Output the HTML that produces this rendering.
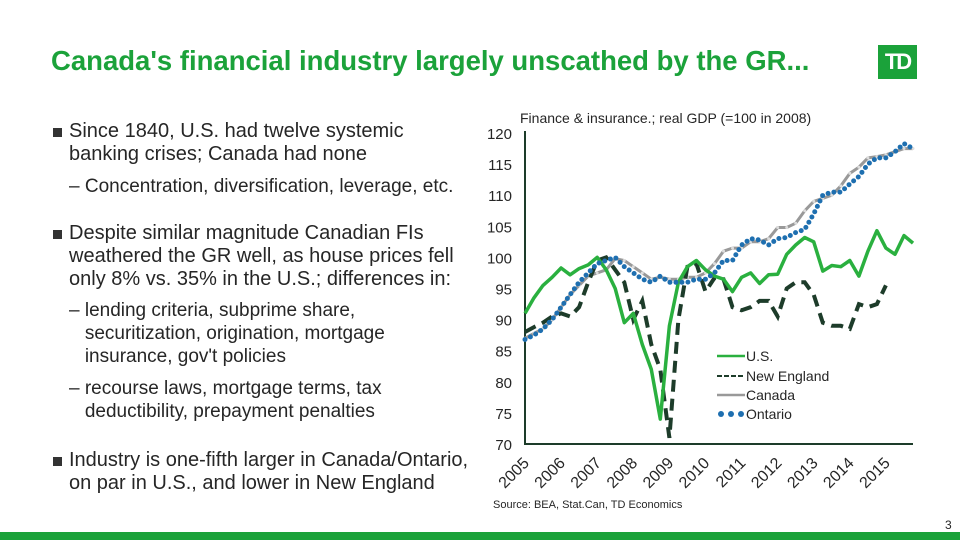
<!DOCTYPE html>
<html><head><meta charset="utf-8"><style>
body{margin:0;width:960px;height:540px;background:#fff;position:relative;overflow:hidden;font-family:"Liberation Sans",sans-serif;color:#262626}
.t{position:absolute;white-space:nowrap}
.b{font-size:20px;line-height:23px}
.s{font-size:19px;line-height:23px}
.sq{position:absolute;width:9px;height:9px;background:#333}
</style></head><body>
<div class="t" style="left:51px;top:45px;font-size:27.5px;font-weight:bold;color:#1ba23a">Canada's financial industry largely unscathed by the GR...</div>
<div style="position:absolute;left:878px;top:45px;width:39px;height:34px;background:#1ba23a;color:#fff;font-weight:bold;font-size:22px;text-align:center;line-height:34px;letter-spacing:-2px">TD</div>

<div class="sq" style="left:53px;top:128px"></div>
<div class="t b" style="left:69px;top:120px">Since 1840, U.S. had twelve systemic<br>banking crises; Canada had none</div>
<div class="t s" style="left:69px;top:175px">– Concentration, diversification, leverage, etc.</div>
<div class="sq" style="left:53px;top:230px"></div>
<div class="t b" style="left:69px;top:222px">Despite similar magnitude Canadian FIs<br>weathered the GR well, as house prices fell<br>only 8% vs. 35% in the U.S.; differences in:</div>
<div class="t s" style="left:69px;top:299px">– lending criteria, subprime share,<br>&nbsp;&nbsp;&nbsp;securitization, origination, mortgage<br>&nbsp;&nbsp;&nbsp;insurance, gov't policies</div>
<div class="t s" style="left:69px;top:377px">– recourse laws, mortgage terms, tax<br>&nbsp;&nbsp;&nbsp;deductibility, prepayment penalties</div>
<div class="sq" style="left:53px;top:457px"></div>
<div class="t b" style="left:69px;top:449px">Industry is one-fifth larger in Canada/Ontario,<br>on par in U.S., and lower in New England</div>

<div class="t" style="left:493px;top:499px;font-size:11px">Source: BEA, Stat.Can, TD Economics</div>
<div class="t" style="left:945px;top:518px;font-size:12px">3</div>
<div style="position:absolute;left:0;top:532px;width:960px;height:8px;background:#1ba23a"></div>

<svg id="chart" width="960" height="540" style="position:absolute;left:0;top:0" font-family="Liberation Sans, sans-serif"></svg>
<script>
const years=['2005','2006','2007','2008','2009','2010','2011','2012','2013','2014','2015'];
const yTicks=[70,75,80,85,90,95,100,105,110,115,120];
const us=[91,93.5,95.5,96.8,98.3,97.2,98.2,98.8,100,98,95,89.5,91,86,82,74,89,96,98.5,99.5,98,97,96.5,94.5,96.8,97.5,95.8,97.2,97.3,100.5,102,103.2,102.5,97.8,98.7,98.5,99.5,97,101,104.3,101.5,100.5,103.5,102.3];
const newEngland=[88,88.8,89.5,90.5,91,90.5,92,96,99.5,100,98,96,90,93,86,82,71,90,98.5,99,94.5,96.7,96.5,92,91.5,92,93,93,90.5,95,96,96,94,89.5,89,89,88.5,92.5,92,92.5,95.5];
const canada=[87,87.8,88.5,90,92,94,95.5,97,97.5,98,99.8,99.5,98.5,97.5,96.5,96.8,96.5,96.5,96.8,96.8,97.5,99,101,101.5,101.5,102.5,102.5,103,104.8,104.8,105.5,107.5,109,109.5,110,111.5,113.5,114.5,116,116.2,116.5,117,117.5,117.5];
const ontario=[86.8,87.5,88.5,90,92,94,96,97.5,99,99.5,100,98.5,97.5,96.5,96,97,96,96,96,96.5,96.5,97.5,99.5,99.5,102,103,102.8,102,103,103.2,104,104.5,107,110,110.5,110.5,111.8,113,115,116,116,117,118.3,117.5];
const svg=document.getElementById('chart');const NS='http://www.w3.org/2000/svg';
const x0=525,x1=913,y70=444,y120=133;
const xs=i=>x0+i*(x1-x0)/43;
const ys=v=>y70-(v-70)*(y70-y120)/50;
function el(t,a){const e=document.createElementNS(NS,t);for(const k in a)e.setAttribute(k,a[k]);svg.appendChild(e);return e;}
let ax=el('path',{d:`M${x0} ${y120-2}V${y70}H${x1}`,stroke:'#1d3c2a','stroke-width':2,fill:'none'});


yTicks.forEach(v=>{const t=el('text',{x:512,y:ys(v)+6,'text-anchor':'end','font-size':15,fill:'#262626'});t.textContent=v;

});
years.forEach((y,i)=>{const px=x0+i*4*(x1-x0)/43+5,py=y70+20;const t=el('text',{x:px,y:py,'text-anchor':'end','font-size':16,fill:'#262626',transform:`rotate(-45 ${px} ${py})`});t.textContent=y;

});
const ttl=el('text',{x:520,y:123,'font-size':14,fill:'#262626'});ttl.textContent='Finance & insurance.; real GDP (=100 in 2008)';


const pts=a=>a.map((v,i)=>`${xs(i).toFixed(1)},${ys(v).toFixed(1)}`).join(' ');
let l=el('polyline',{points:pts(canada),fill:'none',stroke:'#999','stroke-width':3});


canada.forEach((v,i)=>{const c=el('circle',{cx:xs(i),cy:ys(v),r:1.5,fill:'#ddd'});

});
l=el('polyline',{points:pts(newEngland),fill:'none',stroke:'#1d3c2a','stroke-width':4,'stroke-dasharray':'12 7'});


l=el('polyline',{points:pts(us),fill:'none',stroke:'#2ab03f','stroke-width':3.5,'stroke-linejoin':'round'});


l=el('polyline',{points:pts(ontario),fill:'none',stroke:'#1e6fb0','stroke-width':5,'stroke-dasharray':'0 6','stroke-linecap':'round'});


const leg=[['U.S.',356],['New England',376],['Canada',395],['Ontario',414]];
let g=el('line',{x1:717,x2:745,y1:356,y2:356,stroke:'#2ab03f','stroke-width':2.5});


g=el('line',{x1:717,x2:745,y1:376,y2:376,stroke:'#1d3c2a','stroke-width':2,'stroke-dasharray':'5 2'});


g=el('line',{x1:717,x2:745,y1:395,y2:395,stroke:'#999','stroke-width':2.5});


[721,731,741].forEach(cx=>{const c=el('circle',{cx:cx,cy:414,r:3,fill:'#1e6fb0'});

});
leg.forEach(([n,y])=>{const t=el('text',{x:746,y:y+5,'font-size':14,fill:'#262626'});t.textContent=n;

});
</script>
</body></html>
